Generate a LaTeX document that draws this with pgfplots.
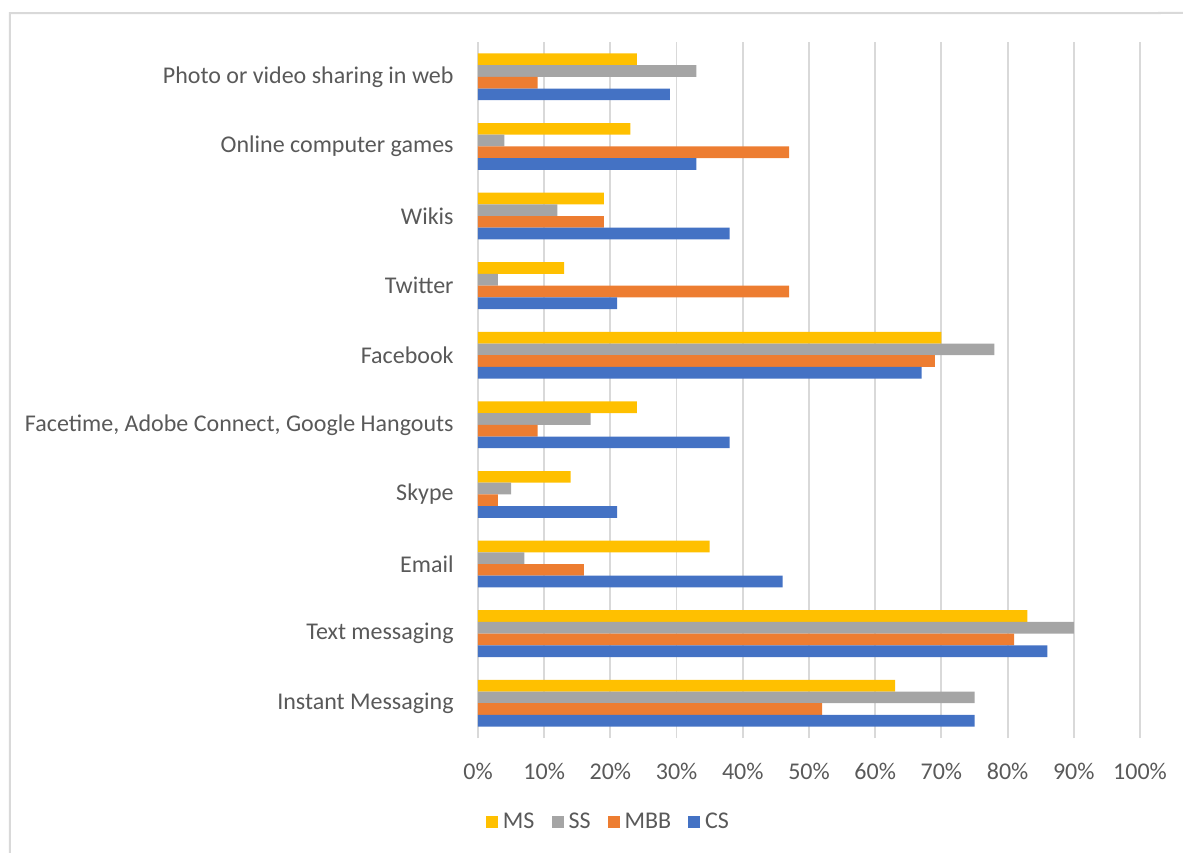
\documentclass[border=0pt]{standalone}
\usepackage{fontspec}
\setmainfont{Carlito}
\usepackage{pgfplots}
\pgfplotsset{compat=1.18}
\usetikzlibrary{calc}

\definecolor{msY}{HTML}{FFC000}
\definecolor{ssG}{HTML}{A5A5A5}
\definecolor{mbbO}{HTML}{ED7D31}
\definecolor{csB}{HTML}{4472C4}
\definecolor{gridC}{HTML}{D9D9D9}
\definecolor{txtC}{HTML}{595959}

% categories 0..9, bottom to top
\pgfplotstableread{
idx MS SS MBB CS
0 63 75 52 75
1 83 90 81 86
2 35 7 16 46
3 14 5 3 21
4 24 17 9 38
5 70 78 69 67
6 13 3 47 21
7 19 12 19 38
8 23 4 47 33
9 24 33 9 29
}\usage

\begin{document}
\begin{tikzpicture}
\begin{axis}[
  xbar,
  scale only axis,
  width=331pt, height=348pt,
  xmin=0, xmax=100, ymin=-0.5, ymax=9.5,
  enlargelimits=false,
  bar width=5.85pt,
  axis line style={draw=none},
  major tick length=0pt,
  xtick={0,10,...,100},
  xticklabels={0\%,10\%,20\%,30\%,40\%,50\%,60\%,70\%,80\%,90\%,100\%},
  ytick={0,...,9},
  yticklabels={{Instant Messaging\ },Text messaging,Email,Skype,{Facetime, Adobe Connect, Google Hangouts},Facebook,Twitter,Wikis,Online computer games,Photo or video sharing in web},
  xmajorgrids,
  grid style={gridC, line width=0.9pt},
  tick label style={font=\fontsize{12}{14}\selectfont, text=txtC},
  y tick label style={anchor=east, inner sep=0pt, xshift=-12pt},
  x tick label style={anchor=north, inner sep=0pt, yshift=-12.5pt},
  legend columns=4,
  legend style={at={(0.1956,-0.1207)}, anchor=center, draw=none, fill=none,
    font=\fontsize{12}{14}\selectfont, text=txtC,
    inner sep=0pt, nodes={inner sep=0pt},
    /tikz/every odd column/.append style={column sep=2.5pt},
    /tikz/every even column/.append style={column sep=8.5pt}},
  legend image code/.code={\fill[#1] (0pt,-3pt) rectangle (6pt,3pt);},
]
  \coordinate (bl) at (rel axis cs:0,0);
  \coordinate (tr) at (rel axis cs:1,1);
  \addplot[fill=msY, draw=none, bar shift=8.775pt] table[x=MS, y=idx] {\usage};
  \addlegendentry{MS}
  \addplot[fill=ssG, draw=none, bar shift=2.925pt] table[x=SS, y=idx] {\usage};
  \addlegendentry{SS}
  \addplot[fill=mbbO, draw=none, bar shift=-2.925pt] table[x=MBB, y=idx] {\usage};
  \addlegendentry{MBB}
  \addplot[fill=csB, draw=none, bar shift=-8.775pt] table[x=CS, y=idx] {\usage};
  \addlegendentry{CS}
\end{axis}
\draw[gridC, line width=1pt] ($(bl)+(-234pt,-60pt)$) -- ($(bl)+(-234pt,362.5pt)$) -- ($(tr)+(30pt,-348pt+362.5pt)$);
\pgfresetboundingbox
\useasboundingbox ($(bl)+(-239pt,-57pt)$) rectangle ($(tr)+(21.5pt,21pt)$);
\end{tikzpicture}
\end{document}
